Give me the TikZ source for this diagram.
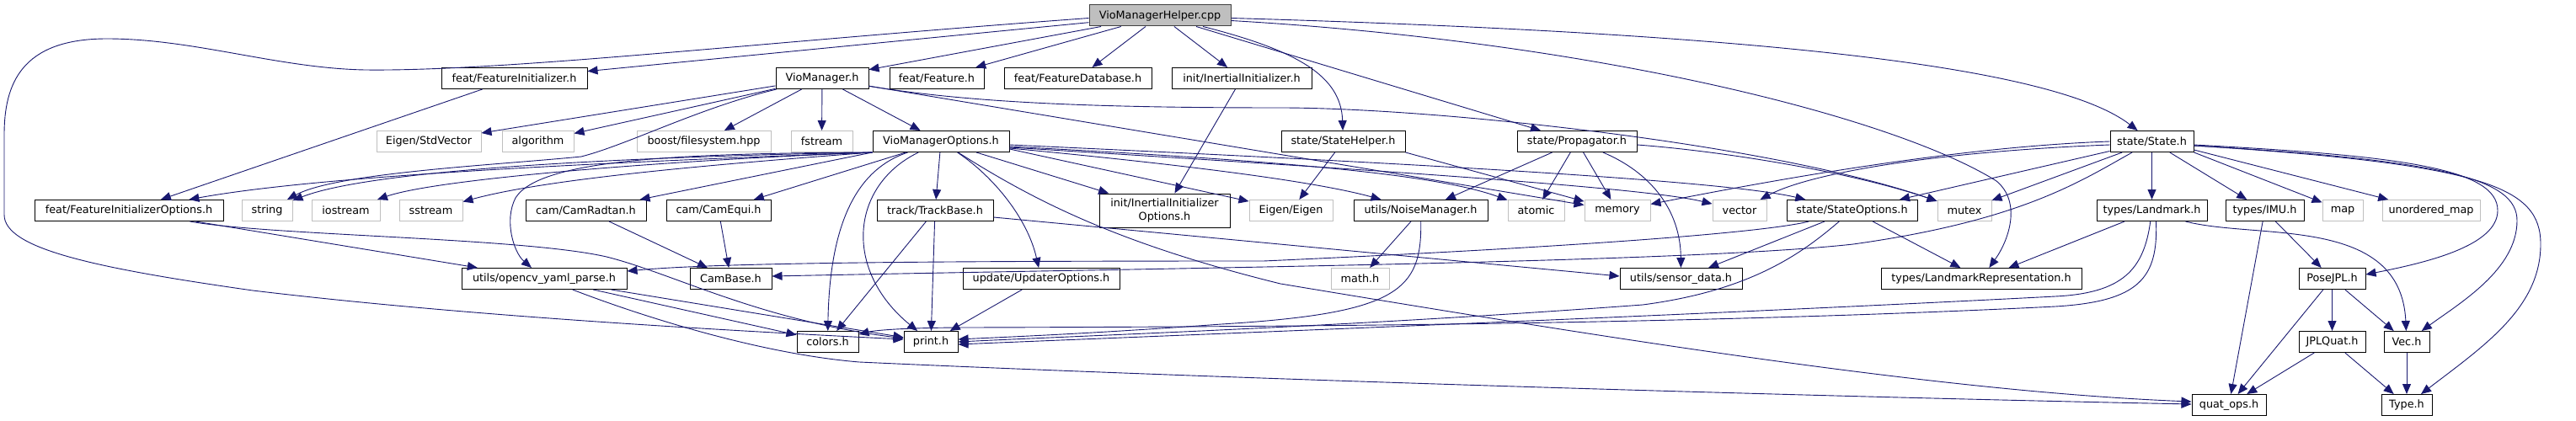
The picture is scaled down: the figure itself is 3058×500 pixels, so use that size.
\documentclass[tikz,border=0pt]{standalone}
\usepackage{fontspec}
\setmainfont{DejaVu Sans}
\usetikzlibrary{arrows.meta}
\definecolor{edgec}{HTML}{191970}
\definecolor{grayb}{HTML}{BFBFBF}
\definecolor{darkb}{HTML}{404040}
\begin{document}
\begin{tikzpicture}[x=1pt,y=-1pt,
  hbox/.style={draw=black, line width=1pt, fill=white, inner sep=0pt, minimum height=25pt, font=\fontsize{12.8}{15.5}\selectfont, anchor=center},
  sysbox/.style={hbox, draw=grayb},
  topbox/.style={hbox, fill=grayb, draw=darkb},
  dep/.style={draw=edgec, line width=0.9pt, -{Triangle[length=12pt,width=10pt]}}
]
\fill[white] (0,0) rectangle (3058,500);
\useasboundingbox (0,0) rectangle (3058,500);

% row 0
\node[topbox, minimum width=168pt] (main) at (1377,18.5) {VioManagerHelper.cpp};
% row 1
\node[hbox, minimum width=173pt] (fi) at (610.5,93) {feat/FeatureInitializer.h};
\node[hbox, minimum width=110pt] (vm) at (976,93) {VioManager.h};
\node[hbox, minimum width=112pt] (ff) at (1112,93) {feat/Feature.h};
\node[hbox, minimum width=175pt] (fdb) at (1279.5,93) {feat/FeatureDatabase.h};
\node[hbox, minimum width=166pt] (ii) at (1474,93) {init/InertialInitializer.h};
% row 2
\node[sysbox, minimum width=124pt] (esv) at (509,168) {Eigen/StdVector};
\node[sysbox, minimum width=85pt] (alg) at (638.5,168) {algorithm};
\node[sysbox, minimum width=159pt] (boost) at (835.5,168) {boost/filesystem.hpp};
\node[sysbox, minimum width=73pt] (fst) at (975.5,168) {fstream};
\node[hbox, minimum width=162pt] (vmo) at (1117,168) {VioManagerOptions.h};
\node[hbox, minimum width=147pt] (sh) at (1594.5,168) {state/StateHelper.h};
\node[hbox, minimum width=142pt] (prop) at (1872,168) {state/Propagator.h};
\node[hbox, minimum width=99pt] (st) at (2554.5,168) {state/State.h};
% row 3
\node[hbox, minimum width=224pt] (fio) at (153,250) {feat/FeatureInitializerOptions.h};
\node[sysbox, minimum width=60pt] (str) at (317,250) {string};
\node[sysbox, minimum width=81pt] (ios) at (410.5,250) {iostream};
\node[sysbox, minimum width=75pt] (sst) at (511.5,250) {sstream};
\node[hbox, minimum width=143pt] (crt) at (695.5,250) {cam/CamRadtan.h};
\node[hbox, minimum width=124pt] (ceq) at (853,250) {cam/CamEqui.h};
\node[hbox, minimum width=138pt] (tb) at (1110,250) {track/TrackBase.h};
\node[hbox, minimum width=155pt, minimum height=40pt, align=center] (iio) at (1382.5,250) {init/InertialInitializer\\Options.h};
\node[sysbox, minimum width=99pt] (eig) at (1532.5,250) {Eigen/Eigen};
\node[hbox, minimum width=159pt] (nm) at (1686.5,250) {utils/NoiseManager.h};
\node[sysbox, minimum width=67pt] (atm) at (1823.5,250) {atomic};
\node[sysbox, minimum width=78pt] (mem) at (1920,250) {memory};
\node[sysbox, minimum width=64pt] (vec) at (2065,250) {vector};
\node[hbox, minimum width=155pt] (so) at (2198.5,250) {state/StateOptions.h};
\node[sysbox, minimum width=64pt] (mtx) at (2332,250) {mutex};
\node[hbox, minimum width=131pt] (lm) at (2554.5,250) {types/Landmark.h};
\node[hbox, minimum width=93pt] (imu) at (2688.5,250) {types/IMU.h};
\node[sysbox, minimum width=48pt] (map) at (2781,250) {map};
\node[sysbox, minimum width=116pt] (umap) at (2886,250) {unordered\_map};
% row 4
\node[hbox, minimum width=196pt] (oyp) at (646,331) {utils/opencv\_yaml\_parse.h};
\node[hbox, minimum width=97pt] (cb) at (867.5,331) {CamBase.h};
\node[hbox, minimum width=186pt] (uo) at (1236,331) {update/UpdaterOptions.h};
\node[sysbox, minimum width=69pt] (math) at (1614.5,331) {math.h};
\node[hbox, minimum width=145pt] (sd) at (1995.5,331) {utils/sensor\_data.h};
\node[hbox, minimum width=238pt] (lr) at (2352,331) {types/LandmarkRepresentation.h};
\node[hbox, minimum width=79pt] (pose) at (2768.5,331) {PoseJPL.h};
% row 5
\node[hbox, minimum width=73pt] (col) at (982.5,406) {colors.h};
\node[hbox, minimum width=64pt] (pr) at (1105,406) {print.h};
\node[hbox, minimum width=79pt] (jpl) at (2768.5,406) {JPLQuat.h};
\node[hbox, minimum width=54pt] (vech) at (2857,406) {Vec.h};
% row 6
\node[hbox, minimum width=88pt] (qo) at (2646,481) {quat\_ops.h};
\node[hbox, minimum width=60pt] (typ) at (2857,481) {Type.h};

% ---- edges from VioManagerHelper.cpp
\draw[dep] ([yshift=-3pt]main.west) .. controls (900,50) and (600,85) .. (433,83) .. controls (330,81) and (230,46) .. (127,46) .. controls (25,46) and (5,100) .. (5,160) -- (5,255) .. controls (5,295) and (110,318) .. (300,345) .. controls (550,375) and (850,392) .. ([yshift=3pt]pr.west);
\draw[dep] (main) -- (fi);
\draw[dep] (main) -- (vm);
\draw[dep] (main) -- (ff);
\draw[dep] (main) -- (fdb);
\draw[dep] (main) -- (ii);
\draw[dep] (main) .. controls (1540,60) and (1592,90) .. (sh);
\draw[dep] (main) -- (prop);
\draw[dep] ([yshift=-3pt]main.east) .. controls (2100,40) and (2440,80) .. (st);
\draw[dep] ([yshift=-6pt]main.east) .. controls (1900,50) and (2250,140) .. (2370,215) .. controls (2400,240) and (2385,285) .. (lr);

% ---- feat/FeatureInitializer.h
\draw[dep] (fi) -- (fio);

% ---- VioManager.h
\draw[dep] (vm) -- (esv);
\draw[dep] (vm) -- (alg);
\draw[dep] (vm) -- (boost);
\draw[dep] (vm) -- (fst);
\draw[dep] (vm) -- (vmo);
\draw[dep] (vm) .. controls (830,128) and (745,172) .. (690,186) .. controls (590,196) and (400,205) .. (str);
\draw[dep] (vm) -- (mem);
\draw[dep] (vm) .. controls (1150,122) and (1300,128) .. (1520,128) .. controls (1700,128) and (2100,170) .. (mtx);

% ---- VioManagerOptions.h
\draw[dep] (vmo.south west) .. controls (800,190) and (400,205) .. (fio);
\draw[dep] (vmo.south west) .. controls (800,185) and (450,198) .. (str);
\draw[dep] (vmo.south west) .. controls (800,190) and (520,212) .. (ios);
\draw[dep] (vmo.south west) .. controls (850,195) and (650,212) .. (sst);
\draw[dep] (vmo.south west) -- (crt);
\draw[dep] (vmo) -- (ceq);
\draw[dep] (vmo.south west) .. controls (800,182) and (640,190) .. (612,235) .. controls (598,262) and (610,300) .. (oyp);
\draw[dep] (vmo) -- (tb);
\draw[dep] (vmo) .. controls (1020,200) and (985,260) .. (col);
\draw[dep] (vmo) .. controls (1010,220) and (1000,320) .. (pr);
\draw[dep] (vmo) .. controls (1180,210) and (1220,260) .. (uo);
\draw[dep] (vmo) .. controls (1230,240) and (1330,290) .. (1520,337) .. controls (1900,400) and (2300,465) .. ([yshift=4pt]qo.west);
\draw[dep] (vmo) -- (iio);
\draw[dep] ([yshift=-9pt]vmo.east) -- (eig);
\draw[dep] ([yshift=-8pt]vmo.east) .. controls (1400,195) and (1560,215) .. (nm);
\draw[dep] ([yshift=-4pt]vmo.east) .. controls (1700,195) and (2050,215) .. (so);
\draw[dep] ([yshift=-6pt]vmo.east) .. controls (1500,190) and (1700,205) .. (atm);
\draw[dep] ([yshift=-7pt]vmo.east) .. controls (1600,200) and (1950,222) .. (vec);

% ---- init/InertialInitializer.h
\draw[dep] (ii) -- (iio);

% ---- state/StateHelper.h
\draw[dep] (sh) -- (eig);
\draw[dep] (sh.south east) -- (mem);

% ---- state/Propagator.h
\draw[dep] (prop) -- (nm);
\draw[dep] (prop) -- (atm);
\draw[dep] (prop) -- (mem);
\draw[dep] (prop) .. controls (1960,205) and (1995,250) .. (sd);
\draw[dep] ([yshift=-4pt]prop.east) .. controls (2050,180) and (2200,205) .. (mtx);

% ---- state/State.h
\draw[dep] (st.west) .. controls (2300,175) and (2050,225) .. (mem);
\draw[dep] ([yshift=-4pt]st.west) .. controls (2300,180) and (2150,205) .. (vec);
\draw[dep] (st) -- (so);
\draw[dep] (st) -- (mtx);
\draw[dep] (st) .. controls (2470,215) and (2400,262) .. (2200,290) .. controls (2000,312) and (1400,318) .. ([yshift=3pt]cb.east);
\draw[dep] (st) -- (lm);
\draw[dep] (st) -- (imu);
\draw[dep] (st.south east) -- (map);
\draw[dep] ([yshift=-10pt]st.east) -- (umap);
\draw[dep] ([yshift=-4pt]st.east) .. controls (2850,185) and (2965,200) .. (2965,250) .. controls (2965,292) and (2880,312) .. ([yshift=5pt]pose.east);
\draw[dep] ([yshift=-5pt]st.east) .. controls (2900,190) and (2988,212) .. (2988,262) .. controls (2988,320) and (2920,360) .. (vech);
\draw[dep] ([yshift=-5pt]st.east) .. controls (2950,195) and (3016,222) .. (3016,290) .. controls (3016,365) and (2950,410) .. (typ);

% ---- types/Landmark.h
\draw[dep] (lm) -- (lr);
\draw[dep] ([xshift=40pt]lm.south) .. controls (2680,285) and (2850,255) .. (vech);
\draw[dep] (lm) .. controls (2545,320) and (2520,348) .. (2440,352) .. controls (2000,375) and (1400,398) .. ([yshift=-3pt]pr.east);
\draw[dep] ([xshift=5pt]lm.south) .. controls (2562,330) and (2540,358) .. (2440,364) .. controls (2000,386) and (1500,388) .. (1150,389) .. controls (1080,389) and (1040,392) .. ([yshift=9pt]col.east);

% ---- types/IMU.h, PoseJPL.h, JPLQuat.h, Vec.h
\draw[dep] (imu) -- (pose);
\draw[dep] (imu) -- (qo);
\draw[dep] (pose) -- (jpl);
\draw[dep] (pose) -- (vech);
\draw[dep] (pose) -- (qo);
\draw[dep] (jpl) -- (qo);
\draw[dep] (jpl) -- (typ);
\draw[dep] (vech) -- (typ);

% ---- others
\draw[dep] (uo) -- (pr);
\draw[dep] (tb) -- (col);
\draw[dep] (tb) -- (pr);
\draw[dep] ([yshift=-8pt]tb.east) -- ([yshift=3pt]sd.west);
\draw[dep] (oyp) -- (col);
\draw[dep] (oyp) -- (pr);
\draw[dep] (oyp) .. controls (760,375) and (900,420) .. (1020,430) .. controls (1500,452) and (2200,472) .. ([yshift=1pt]qo.west);
\draw[dep] (fio) -- (oyp);
\draw[dep] (fio) .. controls (320,280) and (620,282) .. (720,305) .. controls (800,325) and (900,380) .. (pr);
\draw[dep] (crt) -- (cb);
\draw[dep] (ceq) -- (cb);
\draw[dep] (nm) -- (math);
\draw[dep] (nm) .. controls (1688,345) and (1660,372) .. (1450,385) .. controls (1300,396) and (1200,400) .. ([yshift=3pt]pr.east);
\draw[dep] (so) .. controls (2100,275) and (1900,292) .. (1500,310) .. controls (1100,310) and (850,312) .. ([yshift=9pt]oyp.east);
\draw[dep] (so) -- (sd);
\draw[dep] (so) -- (lr);
\draw[dep] (so) .. controls (2140,300) and (2080,345) .. (1950,362) .. controls (1600,388) and (1300,398) .. (pr.east);
\end{tikzpicture}
\end{document}
